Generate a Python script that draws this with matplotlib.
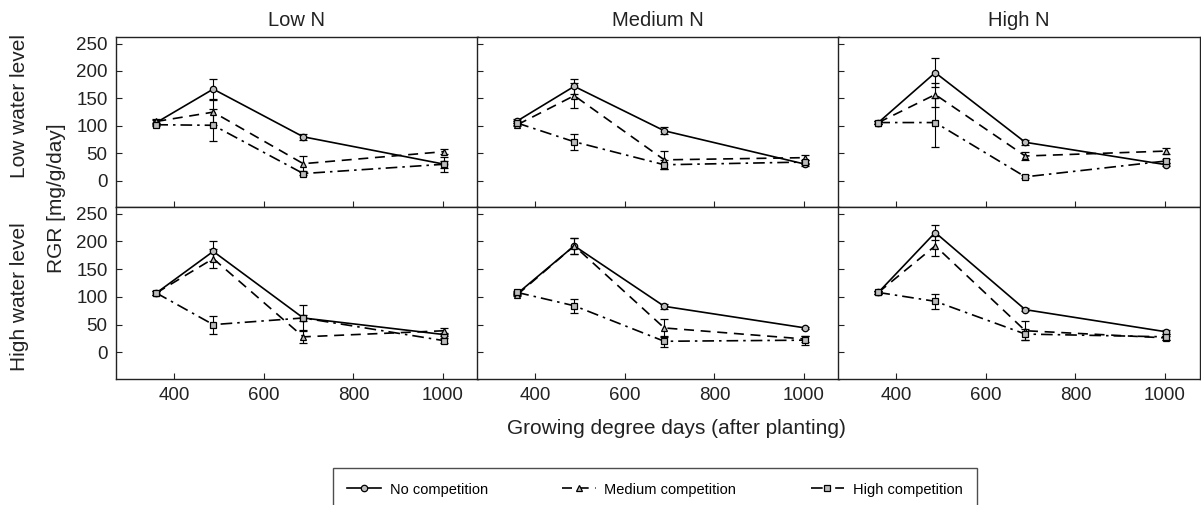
import numpy as np
import matplotlib.pyplot as plt
from matplotlib.lines import Line2D

plt.rcParams['font.family'] = ['Liberation Sans', 'DejaVu Sans']

gdd = [360, 487, 688, 1003]
col_titles = ["Low N", "Medium N", "High N"]
row_titles = ["Low water level", "High water level"]
series_names = ["No competition", "Medium competition", "High competition"]

# RGR values [row][col] -> (no, medium, high)
low_water_rgr = [
    [[106, 167, 80, 30], [108, 125, 31, 53], [102, 101, 13, 30]],
    [[109, 172, 91, 30], [102, 155, 38, 42], [105, 71, 29, 34]],
    [[106, 197, 70, 29], [106, 157, 45, 54], [106, 106, 7, 36]],
]
low_water_err = [
    [[4, 18, 6, 14], [4, 23, 14, 5], [3, 29, 3, 6]],
    [[3, 14, 6, 3], [3, 23, 17, 4], [3, 15, 8, 4]],
    [[3, 27, 5, 3], [3, 22, 8, 5], [3, 44, 3, 4]],
]
high_water_rgr = [
    [[107, 182, 62, 32], [107, 169, 28, 39], [107, 50, 62, 21]],
    [[106, 192, 83, 44], [104, 192, 44, 24], [108, 84, 20, 22]],
    [[108, 216, 77, 37], [108, 192, 39, 26], [108, 92, 33, 28]],
]
high_water_err = [
    [[3, 18, 5, 3], [3, 17, 12, 5], [3, 16, 24, 4]],
    [[3, 14, 4, 2], [3, 15, 17, 6], [3, 13, 10, 8]],
    [[3, 14, 3, 3], [3, 18, 17, 4], [3, 14, 10, 5]],
]

markers = ['o', '^', 's']
styles = ['-', (0, (6, 4)), (0, (7, 3, 1.5, 3))]
face = '#bdbdbd'
ink = '#222222'

W, H = 1201, 505
fig = plt.figure(figsize=(W / 100, H / 100), dpi=100)

lefts = [116, 477, 838]
rows = [(37, 207), (207, 379)]
data = [(low_water_rgr, low_water_err), (high_water_rgr, high_water_err)]

for r, (top, bot) in enumerate(rows):
    vals, errs = data[r]
    for c, lx in enumerate(lefts):
        ax = fig.add_axes([lx / W, 1 - bot / H, 362 / W, (bot - top) / H])
        for s in range(3):
            ax.errorbar(gdd, vals[c][s], yerr=errs[c][s], color='k', lw=1.2,
                        ls=styles[s], marker=markers[s], ms=4.6, mfc=face,
                        mec='k', mew=0.9, ecolor='k', elinewidth=0.8,
                        capsize=3, capthick=0.8)
        ax.set_xlim(270, 1078)
        ax.set_ylim(-48, 262)
        ax.set_xticks([400, 600, 800, 1000])
        ax.set_yticks([0, 50, 100, 150, 200, 250])
        ax.tick_params(direction='in', length=4, width=0.8, labelsize=13.5,
                       colors=ink, labelcolor=ink, pad=6)
        for sp in ax.spines.values():
            sp.set_linewidth(1.0)
            sp.set_color(ink)
        if c > 0:
            ax.set_yticklabels([])
        if r == 0:
            ax.set_xticklabels([])
            ax.set_title(col_titles[c], fontsize=14.5, pad=8, color=ink)

fig.text(20 / W, 1 - 106 / H, row_titles[0], rotation=90, ha='center',
         va='center', fontsize=15, color=ink)
fig.text(20 / W, 1 - 297 / H, row_titles[1], rotation=90, ha='center',
         va='center', fontsize=15, color=ink)
fig.text(56 / W, 1 - 198 / H, "RGR [mg/g/day]", rotation=90, ha='center',
         va='center', fontsize=15, color=ink)
fig.text(676 / W, 1 - 428 / H, "Growing degree days (after planting)",
         ha='center', va='center', fontsize=15, color=ink)

handles = [Line2D([], [], color='k', lw=1.2, ls=styles[s], marker=markers[s],
                  ms=4.6, mfc=face, mec='k', mew=0.9) for s in range(3)]
leg = fig.legend(handles, series_names, loc='upper center',
                 bbox_to_anchor=(655 / W, 1 - 468 / H), ncol=3, fontsize=10.5,
                 frameon=True, fancybox=False, edgecolor=ink,
                 handlelength=2.3, columnspacing=5.1, borderpad=1.0,
                 handletextpad=0.6, borderaxespad=0)
leg.get_frame().set_linewidth(1.0)

fig.savefig('out.png', dpi=100)
